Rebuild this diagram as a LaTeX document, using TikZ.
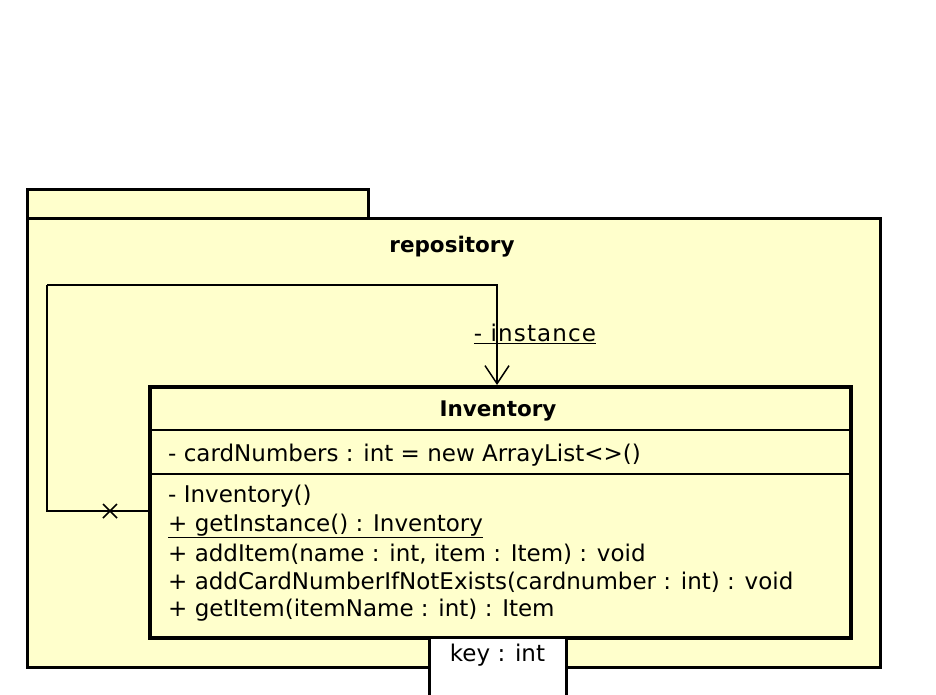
\documentclass[tikz,border=0pt]{standalone}
\usepackage{fontspec}
\setmainfont{DejaVu Sans}
\usepackage{xcolor}
\usetikzlibrary{arrows.meta,positioning,calc,shapes.misc}
\definecolor{umlfill}{HTML}{FFFFCC}

\begin{document}
\begin{tikzpicture}[x=1pt,y=-1pt,font=\fontsize{23}{28}\selectfont,>={Straight Barb[length=18pt,width=24pt]}]
\tikzstyle{pkgbox}=[draw,line width=3pt,fill=umlfill,anchor=north west,inner sep=0pt]
\tikzstyle{classbox}=[draw,line width=3.5pt,fill=umlfill,anchor=north west,inner sep=0pt]
\tikzstyle{title}=[font=\fontsize{21.5}{28}\selectfont\bfseries]
\tikzstyle{member}=[anchor=west,inner sep=0pt]
\tikzstyle{sep}=[line width=1.5pt]
\tikzstyle{assoc}=[line width=1.5pt]
\useasboundingbox (0,0) rectangle (936,694);
% package repository
\node[pkgbox,minimum width=341,minimum height=29] (pkgtab) at (26,188) {};
\node[pkgbox,minimum width=853,minimum height=449] (pkg) at (26,217) {};
\node[title] (pkgname) at (452,247) {repository};
% self association
\coordinate (selfA) at (148,511);
\coordinate (loopcorner) at (47,285);
\coordinate (selfB) at (497,385);
\draw[assoc] (selfA) -| (loopcorner);
\draw[assoc,->] (loopcorner) -| (selfB);
\draw[assoc] (103,504) -- (117,518) (103,518) -- (117,504);
\node[inner sep=0pt] (role) at (535,334) {\addfontfeature{LetterSpace=5}\underline{- instance}};
% class Inventory
\node[classbox,minimum width=701,minimum height=251] (inv) at (148,385) {};
\node[title] (invname) at (498,411) {Inventory};
\draw[sep] (inv.west |- 0,430) -- (inv.east |- 0,430);
\draw[sep] (inv.west |- 0,474) -- (inv.east |- 0,474);
\node[member] (cardnumbers) at (168,455) {- cardNumbers : int = new ArrayList<>()};
\node[member] (ctor) at (168,496) {- Inventory()};
\node[member] (getinst) at (168,526) {\underline{+ getInstance() : Inventory}};
\node[member] (additem) at (168,554) {+ addItem(name : int, item : Item) : void};
\node[member] (addcard) at (168,582) {+ addCardNumberIfNotExists(cardnumber : int) : void};
\node[member] (getitem) at (168,610) {+ getItem(itemName : int) : Item};
% qualifier
\node[draw,line width=3pt,fill=white,anchor=north,minimum width=137,minimum height=80,inner sep=0pt] (key) at (497.5,636) {};
\node (keytext) at (497.5,655) {key : int};
\end{tikzpicture}
\end{document}
